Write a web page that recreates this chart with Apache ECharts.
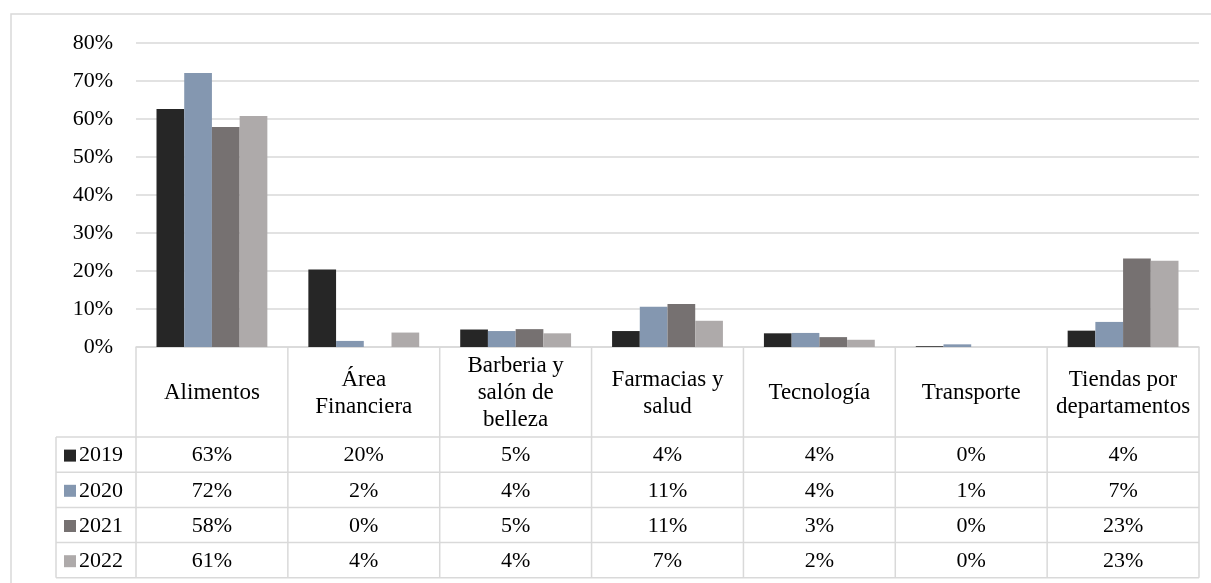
<!DOCTYPE html>
<html>
<head>
<meta charset="utf-8">
<script src="https://cdn.jsdelivr.net/npm/echarts@6/dist/echarts.min.js"></script>
<style>
  html, body { margin: 0; padding: 0; background: #fff; }
  #chart { width: 1211px; height: 583px; }
</style>
</head>
<body>
<div id="chart"></div>
<script>
// categorias (eje x) y años
const categories = ['Alimentos', 'Área\nFinanciera', 'Barberia y\nsalón de\nbelleza', 'Farmacias y\nsalud', 'Tecnología', 'Transporte', 'Tiendas por\ndepartamentos']
const years = ['2019', '2020', '2021', '2022']
// valores en %
const v2019 = [62.6, 20.4, 4.6, 4.2, 3.6, 0.2, 4.3]
const v2020 = [72.1, 1.6, 4.2, 10.6, 3.7, 0.7, 6.6]
const v2021 = [57.9, 0, 4.7, 11.3, 2.6, 0, 23.3]
const v2022 = [60.8, 3.8, 3.6, 6.9, 1.9, 0, 22.7]
const yTicks = [0, 10, 20, 30, 40, 50, 60, 70, 80]

const seriesValues = [v2019, v2020, v2021, v2022]
const colors = ['#262626', '#8497b0', '#767171', '#aeaaaa']
const font = 'Liberation Serif, Times New Roman, serif'
const fs = 22
const lineColor = '#d9d9d9'

// layout
const gridLeft = 136, gridRight = 1199, gridTop = 43, gridBottom = 347
const headerBottom = 437, rowH = 35.2, tableLeft = 56

const chart = echarts.init(document.getElementById('chart'))

chart.setOption({
  animation: false,
  color: colors,
  grid: { left: gridLeft, right: 1211 - gridRight, top: gridTop, bottom: 583 - gridBottom },
  xAxis: {
    type: 'category',
    data: categories,
    axisLine: { lineStyle: { color: lineColor, width: 1.5 } },
    axisTick: { show: false },
    axisLabel: { show: false }
  },
  yAxis: {
    type: 'value',
    min: yTicks[0],
    max: yTicks[yTicks.length - 1],
    interval: 10,
    axisLine: { show: false },
    axisTick: { show: false },
    splitLine: { lineStyle: { color: lineColor, width: 1.5 } },
    axisLabel: {
      formatter: '{value}%',
      color: '#000',
      fontFamily: font,
      fontSize: fs,
      margin: 23
    }
  },
  series: seriesValues.map((vals, i) => ({
    name: years[i],
    type: 'bar',
    data: vals,
    barGap: '0%',
    barCategoryGap: '27%'
  }))
})

// tabla de datos
function buildTable() {
  const els = []
  const colW = (gridRight - gridLeft) / categories.length
  const tableBottom = headerBottom + rowH * years.length
  // borde exterior
  els.push({ type: 'rect', shape: { x: 11, y: 14, width: 1210, height: 580 },
    style: { fill: 'none', stroke: lineColor, lineWidth: 1.5 }, silent: true })
  // lineas horizontales
  for (let r = 0; r <= years.length; r++) {
    const y = headerBottom + r * rowH
    els.push({ type: 'line', shape: { x1: tableLeft, y1: y, x2: gridRight, y2: y },
      style: { stroke: lineColor, lineWidth: 1.5 } })
  }
  // lineas verticales
  els.push({ type: 'line', shape: { x1: tableLeft, y1: headerBottom, x2: tableLeft, y2: tableBottom },
    style: { stroke: lineColor, lineWidth: 1.5 } })
  for (let c = 0; c <= categories.length; c++) {
    const x = gridLeft + c * colW
    els.push({ type: 'line', shape: { x1: x, y1: gridBottom, x2: x, y2: tableBottom },
      style: { stroke: lineColor, lineWidth: 1.5 } })
  }
  // encabezados
  categories.forEach((cat, i) => {
    const cx = chart.convertToPixel({ xAxisIndex: 0 }, i)
    els.push({ type: 'text', x: cx, y: (gridBottom + headerBottom) / 2 + 1,
      style: { text: cat, fill: '#000', font: '23px ' + font, align: 'center',
        verticalAlign: 'middle', lineHeight: 27 } })
  })
  // filas
  years.forEach((yr, r) => {
    const cy = headerBottom + r * rowH + rowH / 2 + 1
    els.push({ type: 'rect', shape: { x: 64, y: cy - 6, width: 12, height: 12 },
      style: { fill: colors[r] } })
    els.push({ type: 'text', x: 79, y: cy,
      style: { text: yr, fill: '#000', font: fs + 'px ' + font, align: 'left', verticalAlign: 'middle' } })
    seriesValues[r].forEach((v, i) => {
      const cx = chart.convertToPixel({ xAxisIndex: 0 }, i)
      els.push({ type: 'text', x: cx, y: cy,
        style: { text: Math.round(v) + '%', fill: '#000', font: fs + 'px ' + font,
          align: 'center', verticalAlign: 'middle' } })
    })
  })
  chart.setOption({ graphic: els })
}
buildTable()
</script>
</body>
</html>
